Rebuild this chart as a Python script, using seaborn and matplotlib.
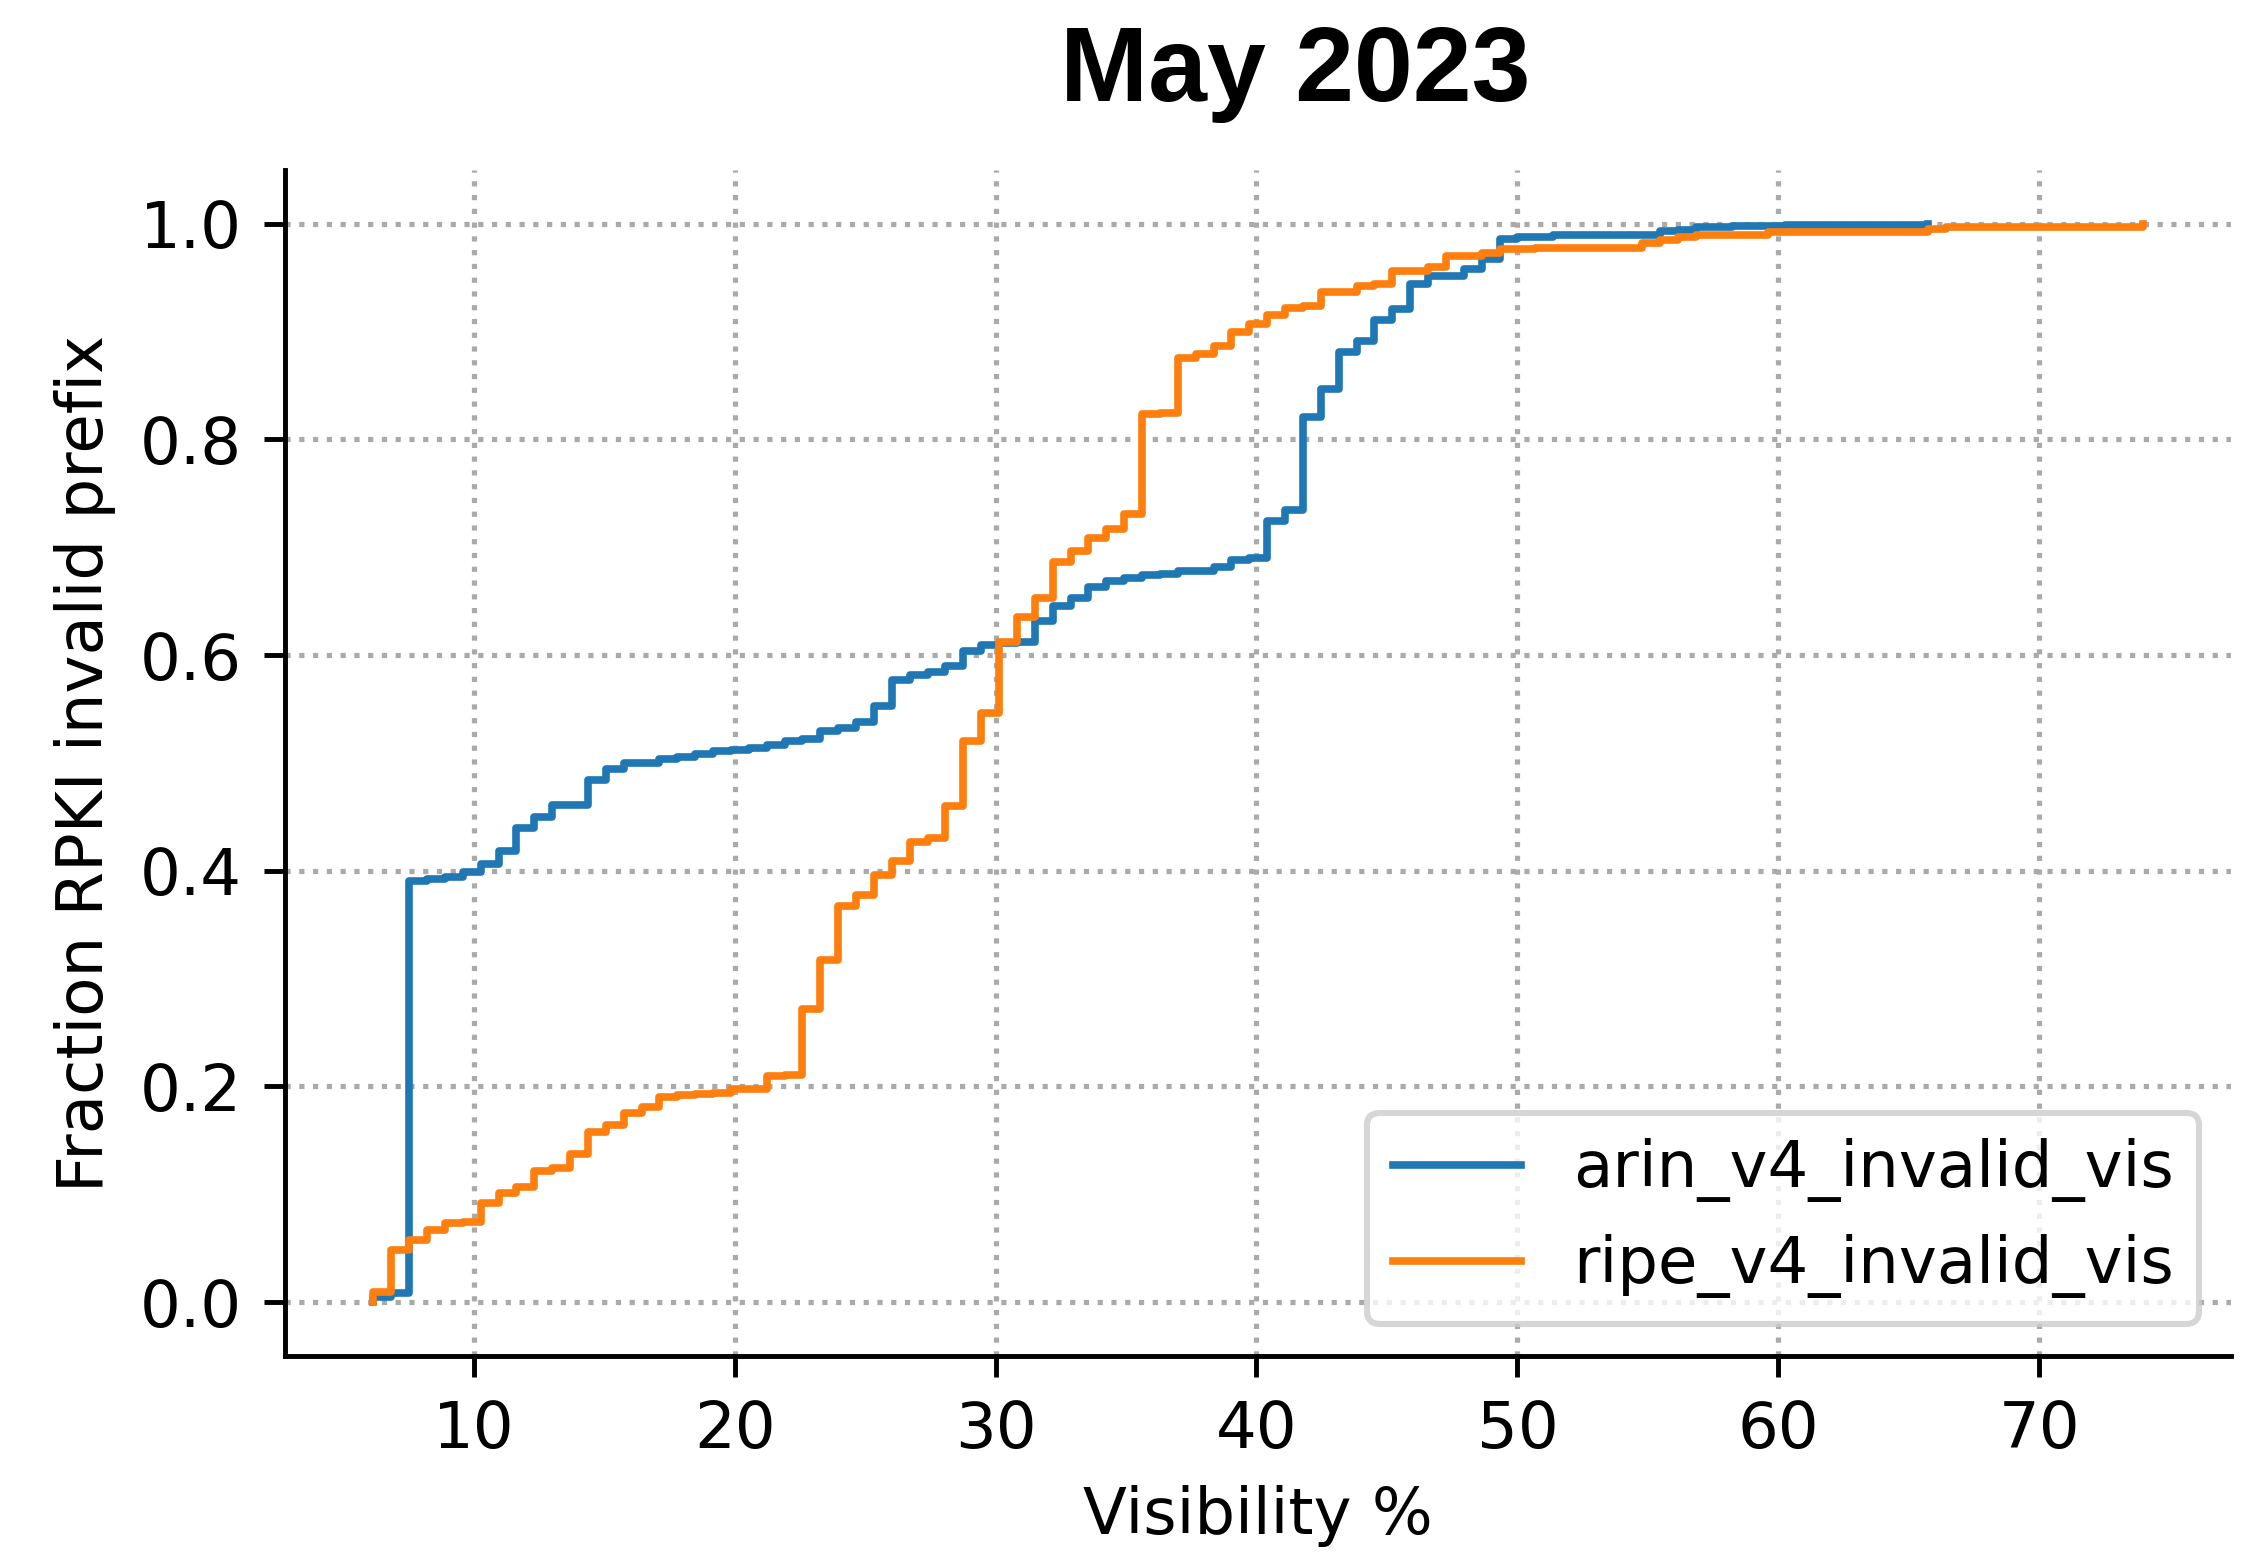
import numpy as np
import pandas as pd
import matplotlib
matplotlib.use("Agg")
import matplotlib.pyplot as plt
import seaborn as sns

# ---- data (step positions and cumulative fraction) ----
arin_vis = [6.16, 6.85, 7.53, 8.22, 8.90, 9.59, 10.27, 10.96, 11.64, 12.33, 13.01,
            14.38, 15.07, 15.75, 17.12, 17.81, 18.49, 19.18, 19.86, 20.55, 21.23,
            21.92, 22.60, 23.29, 23.97, 24.66, 25.34, 26.03, 26.71, 27.40, 28.08,
            28.77, 29.45, 30.14, 30.82, 31.51, 32.19, 32.88, 33.56, 34.25, 34.93,
            35.62, 36.30, 36.99, 38.36, 39.04, 39.73, 40.41, 41.10, 41.78, 42.47,
            43.15, 43.84, 44.52, 45.21, 45.89, 46.58, 47.95, 48.63, 49.32, 50.00,
            51.37, 55.48, 56.16, 56.85, 58.22, 60.27, 65.75]
arin_cdf = [0.005, 0.008, 0.391, 0.392, 0.394, 0.399, 0.406, 0.418, 0.440, 0.450, 0.461,
            0.484, 0.494, 0.500, 0.504, 0.506, 0.508, 0.511, 0.512, 0.514, 0.517,
            0.520, 0.522, 0.530, 0.532, 0.538, 0.553, 0.577, 0.582, 0.584, 0.590,
            0.604, 0.609, 0.611, 0.612, 0.632, 0.646, 0.653, 0.663, 0.669, 0.672,
            0.674, 0.675, 0.678, 0.682, 0.688, 0.690, 0.724, 0.735, 0.821, 0.847,
            0.881, 0.891, 0.911, 0.921, 0.944, 0.952, 0.958, 0.967, 0.986, 0.988,
            0.990, 0.993, 0.994, 0.997, 0.998, 0.999, 1.000]

ripe_vis = [6.16, 6.85, 7.53, 8.22, 8.90, 9.59, 10.27, 10.96, 11.64, 12.33, 13.01,
            13.70, 14.38, 15.07, 15.75, 16.44, 17.12, 17.81, 18.49, 19.18, 19.86,
            21.23, 21.92, 22.60, 23.29, 23.97, 24.66, 25.34, 26.03, 26.71, 27.40,
            28.08, 28.77, 29.45, 30.14, 30.82, 31.51, 32.19, 32.88, 33.56, 34.25,
            34.93, 35.62, 36.30, 36.99, 37.67, 38.36, 39.04, 39.73, 40.41, 41.10,
            41.78, 42.47, 43.84, 44.52, 45.21, 46.58, 47.26, 48.63, 49.32, 50.68,
            54.79, 55.48, 56.16, 56.85, 59.59, 65.75, 66.44, 73.97]
ripe_cdf = [0.009, 0.048, 0.058, 0.067, 0.073, 0.074, 0.092, 0.101, 0.107, 0.122, 0.124,
            0.137, 0.158, 0.164, 0.175, 0.181, 0.190, 0.192, 0.193, 0.194, 0.198,
            0.210, 0.211, 0.272, 0.317, 0.367, 0.378, 0.396, 0.409, 0.427, 0.430,
            0.460, 0.520, 0.546, 0.612, 0.635, 0.653, 0.686, 0.697, 0.709, 0.717,
            0.731, 0.824, 0.825, 0.876, 0.879, 0.887, 0.900, 0.907, 0.915, 0.922,
            0.924, 0.937, 0.942, 0.944, 0.956, 0.960, 0.970, 0.973, 0.977, 0.978,
            0.982, 0.985, 0.988, 0.990, 0.992, 0.995, 0.997, 1.000]

series_labels = ["arin_v4_invalid_vis", "ripe_v4_invalid_vis"]
title_text = "May 2023"
x_label = "Visibility %"
y_label = "Fraction RPKI invalid prefix"

# ---- figure ----
DPI = 440
plt.rcParams["font.family"] = ["DejaVu Sans"]
plt.rcParams["font.size"] = 10.5
fig, ax = plt.subplots(figsize=(2260 / DPI, 1559 / DPI), dpi=DPI)
fig.subplots_adjust(left=0.1261, right=0.9873, bottom=0.1302, top=0.891)

for vis, cdf, lab in [(arin_vis, arin_cdf, series_labels[0]),
                      (ripe_vis, ripe_cdf, series_labels[1])]:
    df = pd.DataFrame({"vis": vis, "w": np.diff(np.r_[0.0, cdf])})
    sns.ecdfplot(data=df, x="vis", weights="w", ax=ax, label=lab, linewidth=1.25)

ax.set_ylim(-0.05, 1.05)
ax.set_xlabel(x_label, fontsize=10.5)
ax.set_ylabel(y_label, fontsize=10.5)
ax.tick_params(labelsize=10.5)
ax.grid(True, linestyle=":", color="#aaaaaa", linewidth=0.85)
sns.despine(ax=ax)
ax.legend(loc="lower right", fontsize=10.5)

fig.text(0.573, 0.935, title_text, ha="center", va="baseline", fontsize=17.3,
         fontweight="bold", family=["Liberation Sans", "DejaVu Sans"])

fig.savefig("out.png", dpi=DPI)
